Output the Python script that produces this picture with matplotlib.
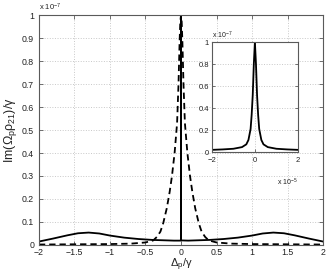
import matplotlib
matplotlib.use("Agg")
import matplotlib.pyplot as plt
import numpy as np

plt.rcParams['font.family'] = ['Liberation Sans', 'DejaVu Sans']
plt.rcParams['mathtext.fontset'] = 'custom'
plt.rcParams['mathtext.rm'] = 'Liberation Sans'
plt.rcParams['mathtext.it'] = 'Liberation Sans'

# Broad part of the solid curve (x in units of gamma, y in units of 1e-7), right half
solid_broad_x = [0.02, 0.1, 0.2, 0.4, 0.6, 0.8, 1.0, 1.15, 1.3, 1.45, 1.6, 1.8, 2.0]
solid_broad_y = [0.019, 0.019, 0.020, 0.022, 0.026, 0.032, 0.041, 0.050, 0.054, 0.051, 0.042, 0.028, 0.015]

# Narrow central peak (x in units of 1e-5 gamma, y in units of 1e-7), right half
peak_x = [0.0, 0.05, 0.1, 0.15, 0.2, 0.3, 0.4, 0.6, 1.0, 1.5, 2.0]
peak_y = [1.0, 0.80, 0.52, 0.34, 0.21, 0.11, 0.07, 0.045, 0.03, 0.024, 0.02]

# Dashed curve, right half
dash_x = [0.0, 0.01, 0.02, 0.035, 0.055, 0.09, 0.127, 0.16, 0.2, 0.25, 0.29, 0.34, 0.39, 0.5, 0.7, 1.0, 1.5, 2.0]
dash_y = [1.0, 0.97, 0.88, 0.70, 0.53, 0.40, 0.30, 0.23, 0.16, 0.095, 0.058, 0.035, 0.02, 0.011, 0.006, 0.004, 0.003, 0.002]

main_xticks = [-2, -1.5, -1, -0.5, 0, 0.5, 1, 1.5, 2]
main_yticks = [0, 0.1, 0.2, 0.3, 0.4, 0.5, 0.6, 0.7, 0.8, 0.9, 1]
inset_xticks = [-2, 0, 2]
inset_yticks = [0, 0.2, 0.4, 0.6, 0.8, 1]


def mirror(xs, ys):
    xs = np.asarray(xs, float)
    ys = np.asarray(ys, float)
    return np.concatenate([-xs[::-1], xs[1:]]), np.concatenate([ys[::-1], ys[1:]])


px, py = mirror(peak_x, peak_y)
bx, by = mirror(solid_broad_x, solid_broad_y)
# full solid: broad part outside, narrow peak inside
sx = np.concatenate([bx[bx < 0], px * 1e-5, bx[bx > 0]])
sy = np.concatenate([by[bx < 0], py, by[bx > 0]])
dx, dy = mirror(dash_x, dash_y)

edge = '#5a5a5a'
fig = plt.figure(figsize=(3.27, 2.73), dpi=100)
ax = fig.add_axes([0.119, 0.1026, 0.869, 0.8424])
ax.plot(sx, sy, color='black', lw=1.3)
ax.plot(dx, dy, color='black', lw=1.3, ls=(0, (3.5, 2.2)))
ax.set_xlim(-2, 2)
ax.set_ylim(0, 1)
ax.set_xticks(main_xticks)
ax.set_xticklabels(['\u22122', '\u22121.5', '\u22121', '\u22120.5', '0', '0.5', '1', '1.5', '2'])
ax.set_yticks(main_yticks)
ax.set_yticklabels(['0', '0.1', '0.2', '0.3', '0.4', '0.5', '0.6', '0.7', '0.8', '0.9', '1'])
ax.grid(True, ls=':', color='#c8c8c8', lw=0.7)
ax.tick_params(direction='in', length=3, width=0.6, colors=edge, labelcolor='#222222',
               labelsize=6.3, top=True, right=True, pad=3.5)
ax.tick_params(axis='x', pad=2.5)
for s in ax.spines.values():
    s.set_color(edge)
    s.set_linewidth(0.8)
ax.set_xlabel('\u0394$_{p}$/\u03b3', fontsize=8, color='#222222', labelpad=-0.5)
ax.set_ylabel(r'Im($\Omega_p\rho_{21}$)/$\gamma$', fontsize=9, color='#222222', labelpad=2)
ax.text(0.0, 1.01, r'x 10$^{-7}$', transform=ax.transAxes, fontsize=5.5, color='#222222',
        ha='left', va='bottom')

ins = fig.add_axes([0.648, 0.443, 0.263, 0.403])
ins.plot(px, py, color='black', lw=1.3)
ins.set_xlim(-2, 2)
ins.set_ylim(0, 1)
ins.set_xticks(inset_xticks)
ins.set_xticklabels(['\u22122', '0', '2'])
ins.set_yticks(inset_yticks)
ins.set_yticklabels(['0', '0.2', '0.4', '0.6', '0.8', '1'])
ins.grid(True, ls=':', color='#c8c8c8', lw=0.7)
ins.tick_params(direction='in', length=2.5, width=0.6, colors=edge, labelcolor='#222222',
                labelsize=5.5, top=True, right=True, pad=2)
ins.tick_params(axis='x', pad=3.5)
for s in ins.spines.values():
    s.set_color(edge)
    s.set_linewidth(0.8)
ins.text(0.0, 1.01, r'x 10$^{-7}$', transform=ins.transAxes, fontsize=5, color='#222222',
         ha='left', va='bottom')
ins.text(1.0, -0.22, r'x 10$^{-5}$', transform=ins.transAxes, fontsize=5, color='#222222',
         ha='right', va='top')

fig.savefig('out.png', dpi=100)
